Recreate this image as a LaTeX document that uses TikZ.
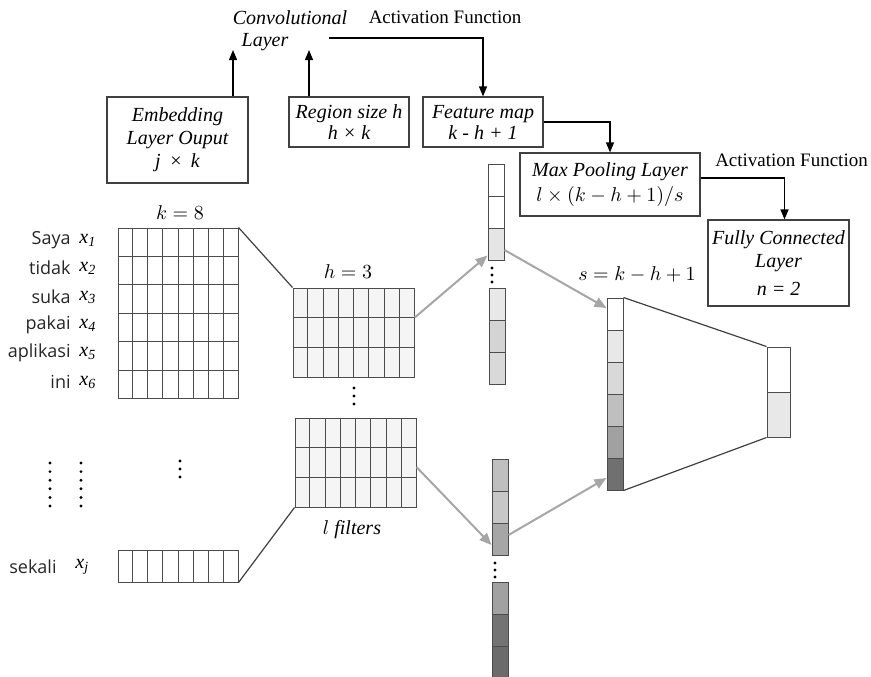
\documentclass[tikz,border=0pt]{standalone}
\usepackage{fontspec}
\setmainfont{Liberation Serif}
\newfontfamily\wordfont{Open Sans}
\usetikzlibrary{arrows.meta,calc}

\begin{document}
\begin{tikzpicture}[x=0.5pt,y=-0.5pt,font=\fontsize{10}{11.5}\selectfont,>={Triangle[length=5pt,width=4pt]},
  b/.style={draw=black!75,line width=0.6pt,align=center,inner sep=0pt,font=\fontsize{10}{11.5}\selectfont\itshape},
  g/.style={draw=black!70,line width=0.5pt,inner sep=0pt},
  cl/.style={draw=black!70,line width=0.5pt,inner sep=0pt,minimum width=8pt,minimum height=16pt},
  ga/.style={->,draw=black!35,line width=1pt,>={Triangle[length=6pt,width=5pt]}},
  wd/.style={anchor=east,inner sep=0pt,font=\wordfont\fontsize{9}{10}\selectfont,text=black!85},
  xl/.style={anchor=west,inner sep=0pt,font=\itshape}]
  \useasboundingbox(0,0) rectangle (871,676);
  % boxes on top
  \node[b,minimum width=70.5pt,minimum height=43pt](emb) at (177.5,140){Embedding\\Layer Ouput\\j \,×\, k};
  \node[b,minimum width=60pt,minimum height=25pt,font=\fontsize{10}{10.5}\selectfont\itshape](reg) at (349,122){Region size h\\h × k};
  \node[b,minimum width=60pt,minimum height=25pt,font=\fontsize{10}{10.5}\selectfont\itshape](feat) at (483,122){Feature map\\k - h + 1};
  \node[b,minimum width=90pt,minimum height=31.5pt](pool) at (610,184.5){Max Pooling Layer\\[1pt]$l\times(k-h+1)/s$};
  \node[b,minimum width=70.5pt,minimum height=43pt](fc) at (778.5,263){Fully Connected\\Layer\\[2.5pt]n = 2};
  \node[font=\itshape](conv) at (290,18){Convolutional};
  \node[font=\itshape](lay) at (265,42){Layer};
  \node[font=\fontsize{9.5}{11}\selectfont](act) at (445,17){Activation Function};
  \node[font=\fontsize{9.5}{11}\selectfont](act2) at (791.5,160){Activation Function};
  \coordinate(ea) at (233,50);\coordinate(ra) at (309,50);\coordinate(la) at (329,38);
  \draw[->,line width=0.6pt](ea|-emb.north)--(ea);\draw[->,line width=0.6pt](ra|-reg.north)--(ra);
  \draw[->,line width=0.6pt](la)-|(feat.north);\draw[->,line width=0.6pt](feat.east)-|(pool.north);
  \draw[->,line width=0.6pt]([yshift=3.25pt]pool.east)-|([xshift=3pt]fc.north);
  % embedding matrix
  \node[g,minimum width=60pt,minimum height=85pt](emat) at (178,313){};
  \node[g,minimum width=60pt,minimum height=16pt](smat) at (178,566){};
  \foreach \i in {1,...,7}{
    \draw[black!70]($(emat.north west)!\i/8!(emat.north east)$)--($(emat.south west)!\i/8!(emat.south east)$);
    \draw[black!70]($(smat.north west)!\i/8!(smat.north east)$)--($(smat.south west)!\i/8!(smat.south east)$);}
  \foreach \i in {1,...,5}\draw[black!70]($(emat.north west)!\i/6!(emat.south west)$)--($(emat.north east)!\i/6!(emat.south east)$);
  \node(kl) at (180,213){$k=8$};
  \foreach \w/\n/\y in {Saya/1/240,tidak/2/268,suka/3/297,pakai/4/325,aplikasi/5/353,ini/6/382}{
    \node[wd](w\n) at (71,\y){\w};\node[xl](x\n) at (79,\y){x\textsubscript{\n}};}
  \node[wd](w7) at (57,567){sekali};\node[xl](x7) at (75,567){x\textsubscript{j}};
  % filters
  \node[g,fill=black!4,minimum width=60.5pt,minimum height=44.5pt](fa) at (353.5,332.5){};
  \node[g,fill=black!4,minimum width=60.5pt,minimum height=44.5pt](fb) at (355.5,462.5){};
  \foreach \f in {fa,fb}{
    \foreach \i in {1,...,7}\draw[black!70]($(\f.north west)!\i/8!(\f.north east)$)--($(\f.south west)!\i/8!(\f.south east)$);
    \foreach \i in {1,2}\draw[black!70]($(\f.north west)!\i/3!(\f.south west)$)--($(\f.north east)!\i/3!(\f.south east)$);}
  \node(hl) at (348,272){$h=3$};
  \node(lf) at (352,530){$l$ \textit{filters}};
  \draw[black!75,line width=0.6pt](emat.north east)--(fa.north west);
  \draw[black!75,line width=0.6pt](smat.south east)--(fb.south west);
  % feature maps
  \foreach \k/\y/\c in {1/180/white,2/212/white,3/244/black!10}\node[cl,fill=\c](a\k) at (496,\y){};
  \foreach \k/\y/\c in {1/304/black!9,2/336/black!17,3/368/black!15}\node[cl,fill=\c](b\k) at (497,\y){};
  \foreach \k/\y/\c in {1/475/black!25,2/507/black!22,3/539/black!35}\node[cl,fill=\c](c\k) at (500,\y){};
  \foreach \k/\y/\c in {1/598/black!37,2/630/black!55,3/662/black!58}\node[cl,fill=\c](d\k) at (500,\y){};
  % pooled and output
  \foreach \k/\y/\c in {1/314/white,2/346/black!9,3/378/black!15,4/410/black!25,5/442/black!37,6/474/black!56}
    \node[cl,fill=\c](p\k) at (615,\y){};
  \foreach \k/\y/\c in {1/369.5/white,2/414.5/black!9}
    \node[cl,fill=\c,minimum width=11.5pt,minimum height=22.5pt](o\k) at (778.5,\y){};
  \node(sl) at (637,274){$s=k-h+1$};
  \draw[ga]([yshift=7.4pt]fa.east)--([yshift=2.5pt]a3.south west);
  \draw[ga]([yshift=-3pt]a3.east)--([yshift=3pt]p1.west);
  \draw[ga]([yshift=-2.25pt]fb.east)--([yshift=-3pt]c3.west);
  \draw[ga]([yshift=2pt]c3.east)--([yshift=-2pt]p6.west);
  \draw[black!75,line width=0.6pt](p1.north east)--(o1.north west);
  \draw[black!75,line width=0.6pt](p6.south east)--(o2.south west);
  % dots
  \foreach \x/\y in {492/268,492/275,492/282,354/388,354/396,354/404,180/461,180/469,180/477,495/563,495/570,495/577}
    \fill(\x,\y) circle (0.8pt);
  \foreach \i in {0,...,5}{\fill(50,463+8.6*\i) circle (0.8pt);\fill(81,463+8.6*\i) circle (0.8pt);}
\end{tikzpicture}
\end{document}
